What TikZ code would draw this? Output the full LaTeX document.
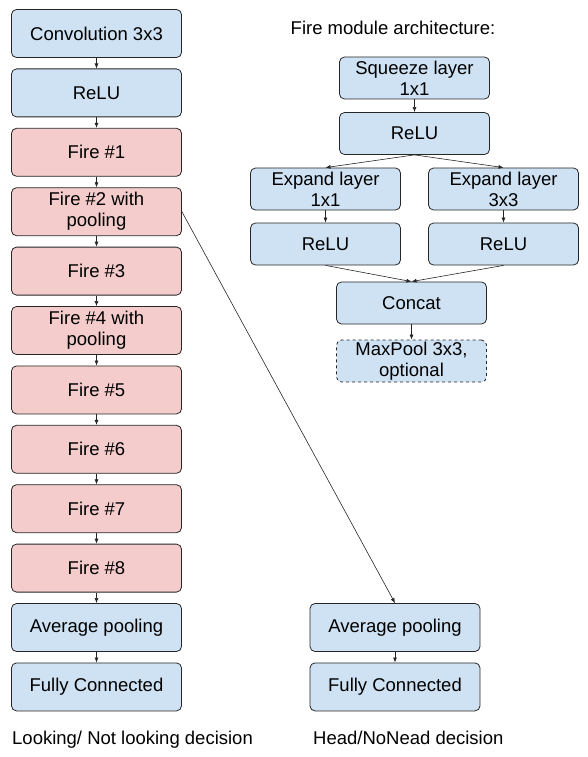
\documentclass[tikz,border=0pt]{standalone}
\usepackage{fontspec}
\setmainfont{Liberation Sans}
\usepackage{tikz}
\usetikzlibrary{positioning, arrows.meta}

\definecolor{boxblue}{HTML}{CFE2F3}
\definecolor{boxred}{HTML}{F4CCCC}

\tikzset{
  layer/.style={draw=black!85, line width=0.8pt, rounded corners=5pt, minimum width=170pt,
    minimum height=48pt, align=center, inner sep=1pt, font=\fontsize{18.5}{21}\selectfont},
  netlayer/.style={layer, fill=boxblue},
  firelayer/.style={layer, fill=boxred},
  modlayer/.style={layer, fill=boxblue, minimum width=150pt, minimum height=42pt},
  caption/.style={font=\fontsize{18.5}{21}\selectfont, inner sep=0pt},
  flow/.style={-{Latex[length=5pt,width=4pt]}, line width=0.6pt, black!85},
}

\begin{document}
\begin{tikzpicture}[x=1pt, y=-1pt]
        \useasboundingbox (0,0) rectangle (588,757);

        % main network
        \node[netlayer]  (conv)  at (96.5,33.5)  {Convolution 3x3};
        \node[netlayer]  (relu)  at (96.5,92.9)  {ReLU};
        \node[firelayer] (fire1) at (96.5,152.3) {Fire \#1};
        \node[firelayer] (fire2) at (96.5,211.7) {Fire \#2 with\\pooling};
        \node[firelayer] (fire3) at (96.5,271.1) {Fire \#3};
        \node[firelayer] (fire4) at (96.5,330.5) {Fire \#4 with\\pooling};
        \node[firelayer] (fire5) at (96.5,389.9) {Fire \#5};
        \node[firelayer] (fire6) at (96.5,449.3) {Fire \#6};
        \node[firelayer] (fire7) at (96.5,508.7) {Fire \#7};
        \node[firelayer] (fire8) at (96.5,568.1) {Fire \#8};
        \node[netlayer]  (avg)   at (96.5,627.5) {Average pooling};
        \node[netlayer]  (fc)    at (96.5,686.9) {Fully Connected};

        % head branch
        \node[netlayer] (avgh) at (395,627.5) {Average pooling};
        \node[netlayer] (fch)  at (395,686.9) {Fully Connected};

        % fire module
        \node[caption] (title) at (393,28) {Fire module architecture:};
        \node[modlayer] (squeeze) at (414.5,78)    {Squeeze layer\\1x1};
        \node[modlayer] (srelu)   at (414.5,133.5) {ReLU};
        \node[modlayer] (exp1)    at (325.5,189)   {Expand layer\\1x1};
        \node[modlayer] (exp3)    at (503.5,189)   {Expand layer\\3x3};
        \node[modlayer] (erelu1)  at (325.5,244)   {ReLU};
        \node[modlayer] (erelu3)  at (503.5,244)   {ReLU};
        \node[modlayer] (concat)  at (411.5,303)   {Concat};
        \node[modlayer, dashed] (maxpool) at (411.5,361) {MaxPool 3x3,\\optional};

        % captions
        \node[caption, anchor=base west] (looklbl) at (12,744)  {Looking/ Not looking decision};
        \node[caption, anchor=base west] (headlbl) at (313,744) {Head/NoNead decision};

        % connectors
        \draw[flow] (conv)  -- (relu);
        \draw[flow] (relu)  -- (fire1);
        \draw[flow] (fire1) -- (fire2);
        \draw[flow] (fire2) -- (fire3);
        \draw[flow] (fire3) -- (fire4);
        \draw[flow] (fire4) -- (fire5);
        \draw[flow] (fire5) -- (fire6);
        \draw[flow] (fire6) -- (fire7);
        \draw[flow] (fire7) -- (fire8);
        \draw[flow] (fire8) -- (avg);
        \draw[flow] (avg)   -- (fc);
        \draw[flow] (fire2.east) -- (avgh.north);
        \draw[flow] (avgh)  -- (fch);

        \draw[flow] (squeeze) -- (srelu);
        \draw[flow] (srelu.south) -- (exp1.north);
        \draw[flow] (srelu.south) -- (exp3.north);
        \draw[flow] (exp1) -- (erelu1);
        \draw[flow] (exp3) -- (erelu3);
        \draw[flow] (erelu1.south) -- (concat.north);
        \draw[flow] (erelu3.south) -- (concat.north);
        \draw[flow] (concat) -- (maxpool);
      \end{tikzpicture}
\end{document}
